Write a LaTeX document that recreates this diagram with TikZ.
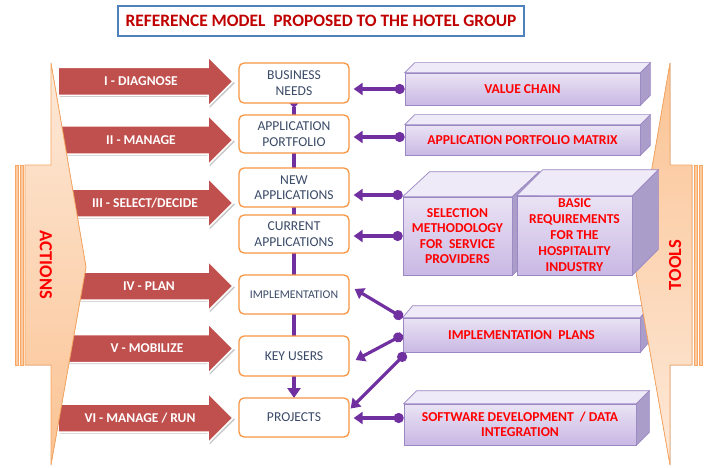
\documentclass[tikz,border=0pt]{standalone}
\usepackage{fontspec}
\setmainfont{Carlito}
\usetikzlibrary{arrows.meta}
\definecolor{ared}{HTML}{C0504D}
\definecolor{ppl}{HTML}{7030A0}
\definecolor{borange}{HTML}{F79646}
\definecolor{peachA}{HTML}{FDE9D9}
\definecolor{peachB}{HTML}{FBC393}
\definecolor{slate}{HTML}{3B4B68}
\definecolor{lavtop}{HTML}{EFEAF7}
\definecolor{lavA}{HTML}{EAE3F4}
\definecolor{lavB}{HTML}{C9B8E4}
\definecolor{lavside}{HTML}{AB9DC9}
\definecolor{lavline}{HTML}{9A87C4}
\definecolor{ttlred}{HTML}{C00000}
\definecolor{ttlblue}{HTML}{4F81BD}
\newcommand\cubefaces[3]{%
  \filldraw[fill=lavtop, draw=lavline, line width=0.7] (#1.north west) -- ++(#2,#3) -- ([shift={(#2,#3)}]#1.north east) -- (#1.north east) -- cycle;
  \filldraw[fill=lavside, draw=lavline, line width=0.7] (#1.north east) -- ++(#2,#3) -- ([shift={(#2,#3)}]#1.south east) -- (#1.south east) -- cycle;
}
\newcommand\redarr[4]{%
  \fill[black!22] (59.5,{#1-12.5}) -- (209.5,{#1-12.5}) -- (209.5,{#1-23.5}) -- (235,{#1+1.5}) -- (209.5,{#1+26.5}) -- (209.5,{#1+15.5}) -- (59.5,{#1+15.5}) -- cycle;
  \filldraw[fill=ared, draw=white, line width=1.5] (58,{#1-14}) -- (208,{#1-14}) -- (208,{#1-25}) -- (233,#1) -- (208,{#1+25}) -- (208,{#1+14}) -- (58,{#1+14}) -- cycle;
  \node[atext] (#2) at (#3,#1) {#4};
}
\begin{document}
\begin{tikzpicture}[x=1pt,y=-1pt,
  cbox/.style={draw=borange, line width=1.3, rounded corners=5, fill=white,
    minimum width=110, align=center, text=slate, inner sep=1,
    font=\fontsize{13.6}{15.5}\selectfont},
  pfront/.style={draw=lavline, line width=0.7, top color=lavA, bottom color=lavB,
    text=red, align=center, inner sep=0,
    font=\bfseries\fontsize{13.6}{15.5}\selectfont},
  atext/.style={text=white, font=\bfseries\fontsize{13.5}{14}\selectfont},
  conn/.style={draw=ppl, line width=3.2, {Circle[length=10pt,width=10pt]}-{Triangle[length=9pt,width=12pt]}},
  vline/.style={draw=ppl, line width=3.5, {Triangle[reversed,length=5pt,width=9pt]}-{Triangle[length=10pt,width=13pt]}},
  peachline/.style={draw=borange!85, line width=0.8},
  sidetext/.style={text=red, font=\bfseries\fontsize{18.5}{19}\selectfont}
]
\useasboundingbox (0,0) rectangle (709,468);
\fill[white] (0,0) rectangle (709,468);

% title
\node[draw=ttlblue, line width=1.2, fill=white, minimum width=406, minimum height=30,
  text=ttlred, font=\bfseries\fontsize{17.4}{18}\selectfont] (title) at (321,21)
  {REFERENCE MODEL~~PROPOSED TO THE HOTEL GROUP};

% red action arrows
\redarr{81.5}{a1}{141}{I - DIAGNOSE}
\redarr{140}{a2}{141}{II - MANAGE}
\redarr{203}{a3}{145}{III - SELECT/DECIDE}
\redarr{286}{a4}{149}{IV - PLAN}
\redarr{348.5}{a5}{147}{V - MOBILIZE}
\redarr{418}{a6}{140}{VI - MANAGE / RUN}

% left peach arrow (ACTIONS)
\filldraw[peachline, fill=peachB!80!peachA] (15,165) rectangle (18,365);
\filldraw[peachline, fill=peachB!80!peachA] (20,165) rectangle (23,365);
\filldraw[peachline, top color=peachA, bottom color=peachB]
  (25,165) -- (51,165) -- (51,63) -- (86,267) -- (51,465) -- (51,365) -- (25,365) -- cycle;
\node[sidetext, rotate=-90] (actions) at (46,265) {ACTIONS};

% implementation plans box (under the TOOLS arrow)
\node[pfront, minimum width=237, minimum height=34] (ip) at (521.5,335) {IMPLEMENTATION~~PLANS};
\cubefaces{ip}{10}{-12}

% right peach arrow (TOOLS)
\filldraw[peachline, fill=peachB!80!peachA] (694,165) rectangle (697,365);
\filldraw[peachline, fill=peachB!80!peachA] (699,165) rectangle (702,365);
\filldraw[peachline, top color=peachB, bottom color=peachA]
  (692,165) -- (670,165) -- (670,63) -- (635,267) -- (670,465) -- (670,365) -- (692,365) -- cycle;
\node[sidetext, rotate=90] (tools) at (675,265) {TOOLS};

% purple tool boxes
\node[pfront, minimum width=235, minimum height=32] (vc) at (522.5,89) {VALUE CHAIN};
\cubefaces{vc}{10}{-10}
\node[pfront, minimum width=235, minimum height=30] (apm) at (522.5,140) {APPLICATION PORTFOLIO MATRIX};
\cubefaces{apm}{10}{-10}
\node[pfront, minimum width=109, minimum height=78] (sm) at (457.5,236)
  {SELECTION\\METHODOLOGY\\FOR~~SERVICE\\PROVIDERS};
\cubefaces{sm}{27}{-25}
\node[pfront, minimum width=115, minimum height=79, font=\bfseries\fontsize{13.6}{16}\selectfont] (br) at (574.5,235.5)
  {BASIC\\REQUIREMENTS\\FOR THE\\HOSPITALITY\\INDUSTRY};
\cubefaces{br}{26}{-26}
\node[pfront, minimum width=232, minimum height=41] (sd) at (520,424.5)
  {SOFTWARE DEVELOPMENT~~/ DATA\\INTEGRATION};
\cubefaces{sd}{13}{-13}

% central chain
\coordinate (vtop) at (294,103);
\coordinate (vbot) at (294,398);
\draw[vline] (vtop) -- (vbot);
\node[cbox, minimum height=40] (bn) at (294,83) {BUSINESS\\NEEDS};
\node[cbox, minimum height=38] (ap) at (294,134) {APPLICATION\\PORTFOLIO};
\node[cbox, minimum height=39] (na) at (294,187.5) {NEW\\APPLICATIONS};
\node[cbox, minimum height=38] (ca) at (294,234) {CURRENT\\APPLICATIONS};
\node[cbox, minimum height=39, font=\fontsize{11.8}{13}\selectfont] (impl) at (294,294.5) {IMPLEMENTATION};
\node[cbox, minimum height=40] (ku) at (294,356) {KEY USERS};
\node[cbox, minimum height=39] (pr) at (294,417.5) {PROJECTS};

% connectors from tools to model
\draw[conn, shorten >=4pt] (vc.west) -- (bn.east |- vc.west);
\coordinate (apmd) at ([yshift=3pt]apm.west);
\draw[conn, shorten >=4pt] (apmd) -- (ap.east |- apmd);
\coordinate (smd) at ([yshift=41pt]sm.west);
\draw[conn, shorten >=4pt] (smd) -- (na.east |- smd);
\draw[conn, shorten >=4pt] (sm.west) -- (ca.east |- sm.west);
\draw[conn] (ip.north west) -- ([shift={(5,-5.5)}]impl.east);
\draw[conn] (ip.west) -- ([shift={(6,4)}]ku.east);
\draw[conn] ([shift={(3,1)}]ip.south west) -- ([shift={(1,-9)}]pr.east);
\coordinate (sdd) at ([yshift=6.5pt]sd.west);
\draw[conn, shorten >=4pt] (sdd) -- (pr.east |- sdd);
\end{tikzpicture}
\end{document}
